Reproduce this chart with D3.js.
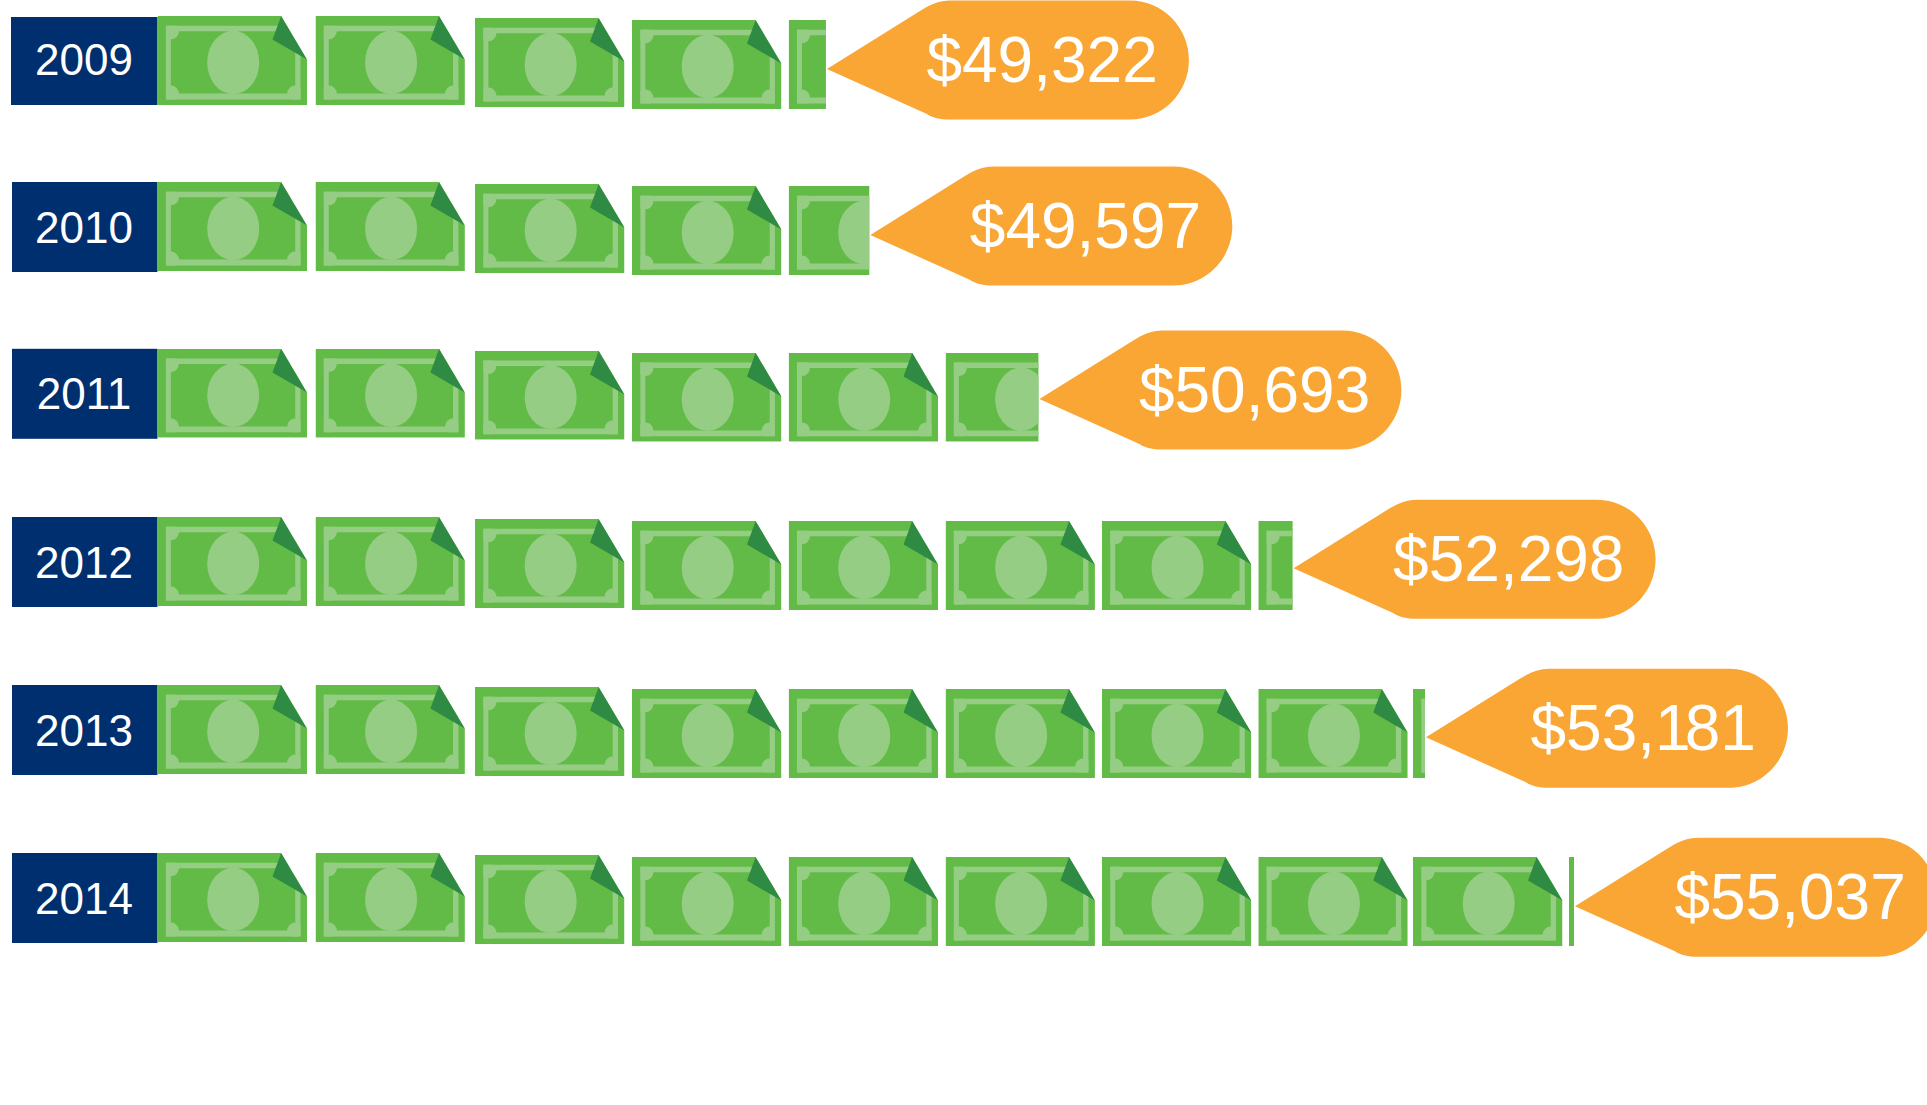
<!DOCTYPE html>
<html><head><meta charset="utf-8">
<script src="https://cdn.jsdelivr.net/npm/d3@7/dist/d3.min.js"></script>
<style>html,body{margin:0;padding:0;background:#fff;overflow:hidden}svg{display:block}text{font-family:"Liberation Sans",Arial,sans-serif;fill:#fff}</style>
</head><body><svg id="c" width="1927" height="1105"></svg>
<script>
const years = ["2009","2010","2011","2012","2013","2014"];
const incomeLabels = ["$49,322","$49,597","$50,693","$52,298","$53,181","$55,037"];
const wholeBills = [4,4,5,7,8,9];
const partialBill = [0.25,0.54,0.622,0.23,0.08,0.033];

const W=1927,H=1105,billW=149.5,billH=89;
const svg=d3.select("#c");
const rowNudge=[0,-1.4,-2,-1.2,-0.6,0];
const billNudge=[0,1,3.7,3.8,3.5,3.5,3,2.5,0.4,-0.5];
const billYOff=[0,0,2,4,4,4,4,4,4,4];
const tipYOff=[53,53,50.2,51.3,52.3,53.3];
const textXOff=[0,0,0,0,5,0];
const y=d3.scalePoint().domain(years).range([16,853]);
const x=d3.scalePoint().domain(d3.range(10)).range([157.5,1569.5]);
const fx=d3.scaleLinear().domain([0,1]).range([0,billW]);
const rowTop=(d,i)=>y(d)+rowNudge[i];
const billX=k=>x(k)+billNudge[k];

const defs=svg.append("defs");
defs.append("clipPath").attr("id","billClip").append("path").attr("d","M0 0H123.7L149.5 43.6V89H0Z");
defs.append("clipPath").attr("id","frameClip").append("rect").attr("x",8.4).attr("y",9.7).attr("width",134.6).attr("height",73.8);
const sym=defs.append("g").attr("id","bill");
const g=sym.append("g").attr("clip-path","url(#billClip)");
g.append("rect").attr("width",billW).attr("height",billH).attr("fill","#62BB46");
g.append("path").attr("fill","#95CD84").attr("fill-rule","evenodd")
 .attr("d","M8.4 9.7H143V83.5H8.4ZM13.4 15.3H137.7V77.6H13.4Z");
const corners=g.append("g").attr("clip-path","url(#frameClip)");
[[13.4,15.3],[13.4,77.6],[137.7,77.6]].forEach(c=>corners.append("circle").attr("cx",c[0]).attr("cy",c[1]).attr("r",8).attr("fill","#95CD84"));
g.append("ellipse").attr("cx",75.7).attr("cy",46.5).attr("rx",26).attr("ry",31.7).attr("fill","#95CD84");
g.append("path").attr("d","M123.7 0L149.5 43.6L115 23.6Z").attr("fill","#2F8A43");

years.forEach((yr,i)=>{
  const top=rowTop(yr,i);
  const labelTop=i?top:top+1, labelH=i?90:88;
  const row=svg.append("g").attr("class","row");
  row.append("rect").attr("x",i?12:11).attr("y",labelTop).attr("width",i?145.5:146.5).attr("height",labelH).attr("fill","#002F6F");
  row.append("text").attr("x",84).attr("y",labelTop+(i?60.5:58)).attr("text-anchor","middle").attr("font-size",44).text(yr);
  const list=d3.range(wholeBills[i]+1);
  row.selectAll("g.b").data(list).join("g").attr("class","b")
    .attr("transform",k=>`translate(${billX(k)},${top+billYOff[k]})`)
    .each(function(k){
      const frac=k<wholeBills[i]?1:partialBill[i];
      const sel=d3.select(this);
      const id=`pc${i}_${k}`;
      if(frac<1){
        sel.append("clipPath").attr("id",id).append("rect").attr("width",fx(frac)).attr("height",billH+1);
        sel.append("g").attr("clip-path",`url(#${id})`).append("use").attr("href","#bill");
      } else sel.append("use").attr("href","#bill");
    });
  const tip=billX(wholeBills[i])+fx(partialBill[i])+1;
  const ty=top+tipYOff[i];
  const p=d3.path();
  p.moveTo(tip,ty);
  p.lineTo(tip+93,ty-58);
  p.bezierCurveTo(tip+103,ty-64.5,tip+113,ty-68.5,tip+123,ty-68.5);
  p.lineTo(tip+303,ty-68.5);
  p.bezierCurveTo(tip+336,ty-68.5,tip+362,ty-41.5,tip+362,ty-9);
  p.bezierCurveTo(tip+362,ty+23.5,tip+336,ty+50.5,tip+303,ty+50.5);
  p.lineTo(tip+123,ty+50.5);
  p.bezierCurveTo(tip+113,ty+50.5,tip+106,ty+49,tip+100,ty+45);
  p.closePath();
  row.append("path").attr("d",p.toString()).attr("fill","#F9A635");
  const t=row.append("text").attr("x",tip+99.5+textXOff[i]).attr("y",ty+13).attr("font-size",64);
  const label=incomeLabels[i], tight=label.indexOf("18");
  if(tight>=0){
    t.append("tspan").text(label.slice(0,tight+1));
    t.append("tspan").attr("dx",-6).text(label.slice(tight+1));
  } else t.text(label);
});
</script></body></html>
